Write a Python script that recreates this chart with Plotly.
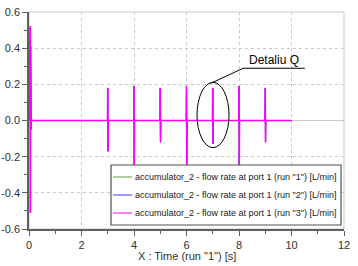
import plotly.graph_objects as go

# ---- data ----
time = [0.0, 0.05, 0.055, 0.06, 0.065, 0.07, 0.075, 0.08, 0.085, 0.09, 0.1,
        2.99, 3.0, 3.01, 3.02,
        3.99, 4.0, 4.01, 4.02,
        4.99, 5.0, 5.01, 5.02,
        5.99, 6.0, 6.01, 6.02,
        6.99, 7.0, 7.01, 7.02,
        7.99, 8.0, 8.01, 8.02,
        8.99, 9.0, 9.01, 9.02,
        10.0]
run3 = [0.0, 0.52, -0.51, 0.41, -0.43, 0.17, -0.18, 0.06, -0.05, 0.01, 0.0,
        0.0, 0.18, -0.17, 0.0,
        0.0, 0.19, -0.25, 0.0,
        0.0, 0.18, -0.12, 0.0,
        0.0, 0.19, -0.25, 0.0,
        0.0, 0.18, -0.13, 0.0,
        0.0, 0.19, -0.25, 0.0,
        0.0, 0.18, -0.12, 0.0,
        0.0]
run1 = list(run3)
run2 = list(run3)

series_names = [
    'accumulator_2 - flow rate at port 1 (run "1") [L/min]',
    'accumulator_2 - flow rate at port 1 (run "2") [L/min]',
    'accumulator_2 - flow rate at port 1 (run "3") [L/min]',
]
series_values = [run1, run2, run3]
series_colors = ["#5a9a3a", "#3a3aff", "#ff00ff"]
series_widths = [1, 1, 1.6]

x_ticks = [0, 2, 4, 6, 8, 10, 12]
x_labels = ["0", "2", "4", "6", "8", "10", "12"]
y_ticks = [-0.6, -0.4, -0.2, 0.0, 0.2, 0.4, 0.6]
y_labels = ["-0.6", "-0.4", "-0.2", "0.0", "0.2", "0.4", "0.6"]
x_title = 'X : Time (run "1") [s]'
note_text = "Detaliu Q"

# ---- layout helpers (pixel -> paper) ----
L, R, T, B = 29, 344, 12, 229
def px(x):
    return (x - L) / (R - L)
def py(y):
    return (B - y) / (B - T)

fig = go.Figure()
for name, vals, col, w in zip(series_names, series_values, series_colors, series_widths):
    fig.add_trace(go.Scatter(x=time, y=vals, mode="lines", name=name,
                             line=dict(color=col, width=w), showlegend=False))

font_family = "Liberation Sans, Arial, sans-serif"
shapes = []
annotations = []

# plot frame (light top/right)
shapes.append(dict(type="rect", xref="paper", yref="paper", x0=0, x1=1, y0=0, y1=1,
                   line=dict(color="#c8c8c8", width=1), layer="below"))
# ellipse annotation
shapes.append(dict(type="circle", xref="x", yref="y", x0=6.40, x1=7.62, y0=-0.15, y1=0.211,
                   line=dict(color="black", width=1)))
shapes.append(dict(type="line", xref="x", yref="y", x0=6.93, y0=0.206, x1=8.16, y1=0.289,
                   line=dict(color="black", width=1)))
shapes.append(dict(type="line", xref="x", yref="y", x0=8.16, y0=0.289, x1=10.51, y1=0.289,
                   line=dict(color="black", width=1)))
annotations.append(dict(text=note_text, xref="x", yref="y", x=9.33, y=0.289,
                        yanchor="bottom", xanchor="center", showarrow=False,
                        font=dict(family=font_family, size=12, color="black"), yshift=-1))

# manual legend
shapes.append(dict(type="rect", xref="paper", yref="paper", x0=px(111), x1=px(341),
                   y0=py(225), y1=py(165), fillcolor="white",
                   line=dict(color="#505050", width=1.2)))
row_y = [177, 195, 213]
for name, col, ry in zip(series_names, series_colors, row_y):
    shapes.append(dict(type="line", xref="paper", yref="paper", x0=px(113), x1=px(132),
                       y0=py(ry), y1=py(ry), line=dict(color=col, width=1)))
    annotations.append(dict(text=name, xref="paper", yref="paper", x=px(133), y=py(ry),
                            xanchor="left", yanchor="middle", showarrow=False,
                            font=dict(family=font_family, size=9, color="#202020")))

# x-axis title
annotations.append(dict(text=x_title, xref="paper", yref="paper", x=0.5, y=py(256),
                        xanchor="center", yanchor="middle", showarrow=False,
                        font=dict(family=font_family, size=11, color="#303030")))

axis_common = dict(showline=True, linecolor="#606060", linewidth=1.5,
                   ticks="outside", ticklen=5, tickwidth=1, tickcolor="#606060",
                   showgrid=True, gridcolor="#c8c8c8", griddash="dot", gridwidth=1,
                   tickfont=dict(family=font_family, size=11, color="#303030"),
                   fixedrange=True, automargin=False, layer="below traces")

fig.update_layout(
    width=358, height=266,
    margin=dict(l=L, r=358 - R, t=T, b=266 - B, autoexpand=False),
    paper_bgcolor="white", plot_bgcolor="white",
    showlegend=False,
    shapes=shapes, annotations=annotations,
    xaxis=dict(range=[0, 12], tickvals=x_ticks, ticktext=x_labels,
               zeroline=False,
               minor=dict(dtick=1, ticklen=3, tickcolor="#606060", ticks="outside", showgrid=False),
               **axis_common),
    yaxis=dict(range=[-0.6, 0.6], tickvals=y_ticks, ticktext=y_labels,
               zeroline=True, zerolinecolor="#c8c8c8", zerolinewidth=1,
               minor=dict(dtick=0.1, ticklen=3, tickcolor="#606060", ticks="outside", showgrid=False),
               **axis_common),
)

fig.write_html("out.html")
